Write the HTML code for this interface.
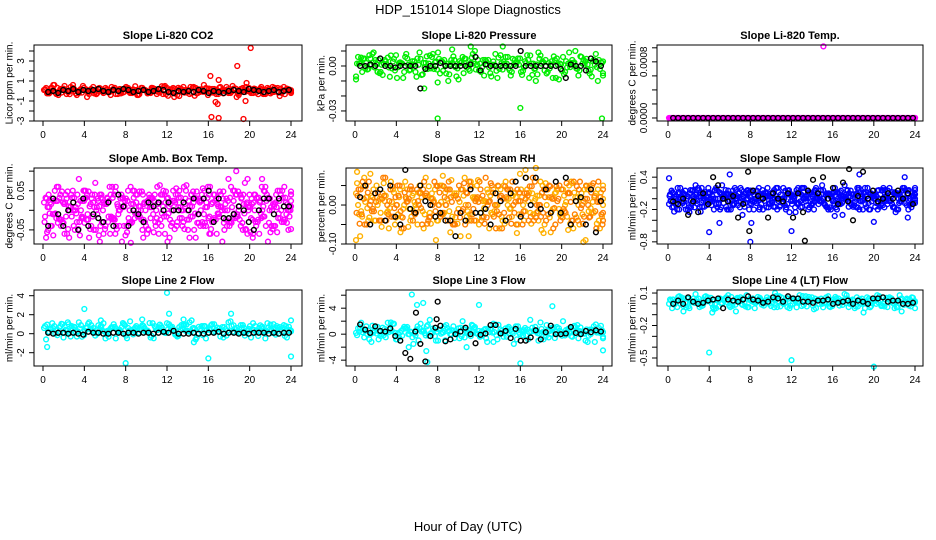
<!DOCTYPE html>
<html><head><meta charset="utf-8"><style>
html,body{margin:0;padding:0;background:#fff}
svg{display:block;font-family:"Liberation Sans",sans-serif}
</style></head><body>
<svg id="fig" width="936" height="540" viewBox="0 0 936 540">
<text x="468" y="14" text-anchor="middle" font-size="13">HDP_151014  Slope Diagnostics</text>
<text x="468" y="531" text-anchor="middle" font-size="13">Hour of Day (UTC)</text>
</svg>
<script>
// ---- data ----
const xTicks = [0,4,8,12,16,20,24];

const co2Vals = [0.1,-0.2,0.3,-0.3,0.2,0.5,-0.1,0.3,-0.4,0.2,0.1,-0.3,0.4,-0.2,0.0,0.3,-0.1,0.2,-0.3,0.1,0.4,-0.2,0.1,-0.4,0.3,0.0,-0.2,0.2,0.1,-0.3,0.3,-0.1,0.2,-0.5,0.4,0.1,-0.2,0.3,-0.1,0.6,-0.4,0.2,-0.3,0.4,0.0,-0.2,0.5,-0.6,0.2,-0.1,0.3,-0.2,0.1,0.4,-0.3,0.2,-0.1,0.3,-0.2,0.1,0.0];
const co2Black = [-0.1,0.0,-0.2,0.1,0.0,0.2,-0.1,0.1,0.0,0.1,0.2,0.0,-0.1,0.1,0.0,0.2,0.1,-0.1,0.0,0.1,-0.1,0.0,0.2,0.1,-0.1,-0.2,0.0,-0.1,0.0,-0.1,0.1,0.0,-0.2,0.0,-0.1,-0.2,0.0,0.1,0.0,-0.1,0.2,0.1,0.0,-0.1,0.0,0.1,-0.1,0.0,0.1];
const co2OutX = [1.0,2.9,16.2,16.3,16.7,17.0,17.0,16.9,18.8,19.4,19.6,20.1,19.7,12.7];
const co2OutY = [0.6,0.6,1.5,-2.6,-1.1,-2.7,1.1,-1.3,2.5,-2.8,-1.0,4.3,0.8,-0.6];

const pressVals = [-0.007,0.002,0.005,-0.002,0.008,0.001,-0.004,0.004,-0.001,0.003,-0.008,0.002,0.006,-0.003,0.001,0.005,-0.006,0.002,0.007,-0.002,0.009,0.003,-0.005,0.001,0.004,-0.009,0.006,-0.001,0.002,0.010,-0.003,0.004,0.001,-0.007,0.008,-0.002,0.003,0.006,-0.004,0.002,0.005,-0.001,0.004,-0.006,0.001,0.007,-0.003,0.002,-0.008,0.005,0.001,-0.004,0.009,0.002,-0.002,0.006,0.003,-0.005,0.004,-0.010,0.002];
const pressBlack = [0,0,0.001,0,0.005,0,0,-0.001,0,0,0,0,-0.015,-0.002,0,0,0.002,0,0,0,0,0,0.001,0.006,-0.003,0.001,0,0,0,0,0,0,0.010,0,0,0,0,0,0,0,-0.002,-0.008,0.001,0,0,-0.003,0.005,0.003,0];
const pressOutX = [8.0,16.0,23.9,11.2,14.3,1.8,0.1,6.7,8.0,17.5,9.4];
const pressOutY = [-0.035,-0.028,-0.035,0.013,0.013,0.009,-0.009,-0.015,-0.011,-0.010,0.011];

const tempVals = [0,0,0,0,0,0,0,0,0,0,0,0,0,0,0,0,0,0,0,0,0,0,0,0,0,0,0,0,0,0,0,0,0,0,0,0,0,0,0,0,0,0,0,0,0,0,0,0,0,0,0,0,0,0,0,0,0,0,0,0,0];
const tempBlack = [0,0,0,0,0,0,0,0,0,0,0,0,0,0,0,0,0,0,0,0,0,0,0,0,0,0,0,0,0,0,0,0,0,0,0,0,0,0,0,0,0,0,0,0,0,0,0,0,0];
const tempOutX = [15.1];
const tempOutY = [0.00102];

const ambVals = [0.02,-0.05,0.03,-0.02,0.04,-0.06,0.01,0.05,-0.03,0.00,0.03,-0.07,0.02,-0.01,0.04,-0.04,0.06,-0.02,0.01,-0.08,0.03,-0.03,0.05,0.00,-0.05,0.02,-0.02,0.04,-0.06,0.01,0.03,-0.04,0.02,0.05,-0.03,0.00,0.04,-0.07,0.02,-0.01,0.06,-0.03,0.03,0.01,-0.05,0.08,-0.02,0.04,-0.04,0.07,0.01,-0.06,0.03,-0.02,0.06,0.00,-0.04,0.05,-0.03,0.02,0.01];
const ambVals2 = [-0.03,0.04,-0.01,0.06,-0.04,0.02,-0.07,0.00,0.04,-0.02,0.05,0.01,-0.05,0.03,-0.03,0.02,-0.06,0.04,-0.01,0.03,-0.04,0.06,-0.02,0.01,0.04,-0.06,0.03,-0.03,0.02,0.05,-0.08,0.00,0.04,-0.02,0.06,-0.05,0.01,0.03,-0.04,0.05,-0.02,0.02,-0.06,0.04,0.00,-0.03,0.05,-0.01,0.03,-0.05,0.04,0.02,-0.03,0.06,-0.04,0.03,0.01,-0.02,0.05,-0.01,0.00];
const ambBlack = [-0.04,0.03,-0.01,-0.04,0.00,0.02,-0.05,0.03,-0.04,-0.01,-0.02,-0.03,0.02,-0.04,0.04,0.01,-0.04,0.00,-0.01,-0.03,0.02,0.01,0.02,0.00,0.02,0.00,0.00,0.02,0.00,0.03,-0.01,0.03,0.05,-0.03,0.03,-0.02,-0.02,-0.01,0.01,0.00,-0.03,-0.05,0.00,0.03,0.03,-0.01,0.03,0.01,0.01];
const ambOutX = [18.7,19.8,20.3,21.2,5.5,8.5,9.7,7.0,16.1,4.0];
const ambOutY = [0.1,0.08,-0.07,0.08,-0.08,-0.083,-0.07,-0.06,-0.06,0.05];

const rhVals = [0.03,-0.08,0.07,-0.04,0.02,0.05,-0.02,0.01,-0.06,0.04,0.00,-0.03,0.06,-0.01,0.03,-0.05,0.02,0.07,-0.02,0.01,-0.04,0.05,0.00,-0.07,0.03,-0.01,0.04,-0.03,0.06,0.02,-0.05,0.01,0.04,-0.02,0.03,-0.06,0.05,0.00,-0.03,0.02,0.08,-0.04,0.01,0.03,-0.02,0.06,-0.05,0.02,-0.01,0.04,-0.03,0.00,0.05,-0.06,0.02,0.03,-0.09,0.05,-0.02,0.04,-0.03];
const rhVals2 = [-0.02,0.04,-0.05,0.06,-0.01,0.02,-0.04,0.07,0.01,-0.03,0.05,-0.06,0.02,0.04,-0.02,0.01,-0.05,0.03,-0.03,0.06,0.00,-0.02,0.04,0.02,-0.05,0.05,-0.01,0.03,-0.04,0.01,0.06,-0.03,0.00,0.05,-0.06,0.02,-0.02,0.04,0.06,-0.05,0.01,0.03,-0.04,0.07,0.00,-0.03,0.02,0.05,-0.06,0.01,0.04,-0.02,0.03,0.06,-0.04,0.00,0.05,-0.03,0.02,0.06,-0.05];
const rhBlack = [0.02,0.05,-0.05,0.03,0.04,-0.04,0.05,-0.03,-0.05,0.09,-0.01,-0.02,0.05,0.01,0.00,-0.03,-0.02,-0.04,-0.04,-0.08,-0.02,-0.04,0.04,-0.02,-0.02,-0.01,-0.05,0.03,0.01,-0.04,0.03,0.06,-0.03,0.07,0.00,0.07,-0.01,0.04,-0.02,0.06,-0.02,0.07,-0.05,0.01,0.02,-0.05,0.04,-0.07,0.01];
const rhOutX = [0.2,0.1,17.5,16.5,22.1,8.5,11.0,4.4];
const rhOutY = [0.085,-0.09,0.095,0.09,-0.095,0.075,-0.08,-0.07];

const sampleVals = [-0.1,0.1,-0.2,0.0,0.15,-0.25,0.05,-0.1,0.2,-0.05,0.1,-0.2,0.0,0.25,-0.15,0.05,-0.1,0.1,-0.3,0.0,0.15,-0.05,0.2,-0.2,0.05,0.1,-0.15,0.0,0.2,-0.1,0.05,-0.25,0.1,0.0,0.15,-0.1,0.2,-0.05,0.0,-0.2,0.1,0.05,-0.1,0.25,-0.15,0.0,0.1,-0.05,0.2,-0.2,0.05,0.15,-0.1,0.0,0.2,-0.15,0.1,-0.05,0.15,0.0,0.05];
const sampleVals2 = [0.05,-0.15,0.2,-0.05,-0.2,0.1,0.0,0.2,-0.15,0.05,-0.05,0.15,-0.1,0.0,0.1,-0.2,0.2,-0.05,0.05,0.15,-0.1,0.0,-0.2,0.1,0.2,-0.05,0.05,-0.15,0.0,0.15,-0.1,0.1,-0.05,0.2,-0.2,0.05,0.0,0.15,-0.1,0.1,-0.05,-0.2,0.15,0.0,0.1,-0.15,0.2,0.05,-0.1,0.1,0.0,-0.2,0.15,0.05,-0.05,0.1,-0.2,0.15,0.0,-0.1,0.1];
const sampleBlack = [-0.05,-0.1,0.0,-0.3,-0.05,-0.25,0.1,-0.1,0.4,0.25,0.0,-0.05,0.05,-0.35,-0.1,0.5,0.15,0.05,0.0,-0.35,0.1,0.0,-0.05,0.1,-0.35,0.1,-0.25,0.15,0.35,0.1,0.4,0.0,0.2,-0.1,0.3,-0.05,-0.4,0.05,0.5,0.0,0.15,-0.05,0.0,0.1,0.0,0.15,0.0,0.1,-0.1];
const sampleOutX = [8.0,4.0,12.0,5.0,8.1,6.0,18.6,20.0,16.2,23.0,23.3,0.1];
const sampleOutY = [-0.8,-0.62,-0.6,-0.45,-0.45,0.45,0.45,-0.43,-0.32,0.4,-0.35,0.38];
const sampleBlkOutX = [13.3,17.6,7.9];
const sampleBlkOutY = [-0.78,0.55,-0.6];

const line2Vals = [0.6,0.2,1.1,0.4,0.8,0.1,1.0,0.5,-0.3,0.9,0.3,1.2,0.6,0.0,0.8,-0.5,0.4,1.0,0.2,0.7,-0.2,1.3,0.5,0.1,0.9,0.3,-0.4,0.8,0.6,0.2,1.1,0.4,-0.1,0.7,0.9,0.3,1.4,-0.6,0.5,0.8,0.1,1.0,0.4,-0.3,0.7,1.2,0.2,0.6,0.9,-0.2,0.5,1.1,0.3,0.7,-0.5,0.4,1.0,0.6,0.2,0.8,0.4];
const line2Black = [0.1,0,0.1,0.1,0,0.1,0,-0.1,0.2,0.1,0.1,0,0,0.1,0.1,0,0.1,0.1,0,0.1,0.1,0,0.1,0.2,0.1,0.3,0,0,0,0.1,0,0,0.1,0.1,0.2,0,0.1,0.1,0,0.1,0,0.1,0.1,0.1,0,0.1,0,0.1,0.1];
const line2OutX = [0.4,4.0,8.0,12.0,12.2,16.0,18.2,24.0,9.6,13.6,14.6,5.6,2.4];
const line2OutY = [-1.4,2.6,-3.1,4.3,2.1,-2.6,2.1,-2.4,1.5,1.5,-0.9,1.4,1.2];

const line3Vals = [0.2,1.0,-0.5,0.6,1.3,0.1,-0.3,0.8,0.3,1.6,-0.8,0.5,0.9,0.0,-1.5,1.2,0.4,-0.2,2.2,0.6,-1.0,0.3,1.4,0.0,-0.6,0.9,2.0,0.2,-0.3,1.1,0.5,0.1,-1.2,0.7,1.5,0.2,-0.4,0.9,0.3,1.2,0.0,0.6,-0.8,1.0,0.4,1.8,0.2,-0.5,0.8,1.1,0.3,-0.2,0.9,0.5,1.4,0.1,-1.0,0.7,1.2,0.4,0.6];
const line3Black = [1.5,0.7,0.2,1.2,0.5,0.4,0.9,-0.3,-1.0,-2.9,-3.8,0.4,-1.5,-4.2,-0.3,1.0,1.3,-1.1,-0.8,0.0,0.4,1.0,0.0,-1.4,-0.1,0.1,1.4,1.4,0.1,0.5,-0.6,0.8,-1.0,-1.0,-0.5,0.6,-0.8,0.3,1.3,0.0,0.0,0.1,1.1,0.2,0.0,0.5,0.3,0.6,0.4];
const line3BlkOutX = [5.9,8.0,7.9];
const line3BlkOutY = [3.3,5.0,2.3];
const line3OutX = [5.5,6.0,6.6,7.0,12.0,16.0,19.1,24.0,5.2,10.8,6.9,13.4];
const line3OutY = [6.1,4.5,4.8,-4.3,4.5,-4.5,4.3,-2.5,-2.0,-2.0,-2.6,-1.2];

const line4Vals = [0.0,0.04,-0.03,0.06,0.01,-0.04,0.05,0.02,-0.02,0.07,0.03,-0.05,0.04,0.00,0.06,-0.03,0.02,0.05,-0.01,0.08,0.03,-0.04,0.04,0.01,0.06,-0.02,0.03,0.07,0.00,-0.03,0.05,0.02,0.08,-0.01,0.04,0.06,-0.04,0.03,0.01,0.07,-0.02,0.05,0.02,0.09,-0.03,0.04,0.06,0.00,-0.04,0.05,0.03,0.08,-0.02,0.04,0.06,0.01,-0.03,0.05,0.02,0.04,0.01];
const line4Black = [0.0,0.03,0.0,0.06,0.02,0.0,0.01,0.03,0.04,0.05,-0.04,0.04,0.03,0.02,0.04,0.07,0.04,0.03,0.01,0.02,0.06,0.05,0.02,0.07,0.05,0.05,0.02,0.02,0.01,0.03,0.03,0.04,0.0,0.01,0.02,0.03,0.0,0.03,0.02,0.0,0.05,0.05,0.06,0.02,0.03,0.03,0.0,0.0,0.01];
const line4OutX = [4.0,12.0,20.0,1.5,4.3,6.6,19.0,22.7,10.4];
const line4OutY = [-0.45,-0.52,-0.58,-0.07,-0.08,-0.07,-0.08,-0.07,0.1];

const co2Ticks=[-3,-2,-1,0,1,2,3,4], co2Labels=["-3","","-1","","1","","3",""];
const pressTicks=[-0.03,-0.02,-0.01,0,0.01], pressLabels=["-0.03","","","0.00",""];
const tempTicks=[0,0.0002,0.0004,0.0006,0.0008,0.001], tempLabels=["0.0000","","","","0.0008",""];
const ambTicks=[-0.05,0,0.05,0.1], ambLabels=["-0.05","","0.05",""];
const rhTicks=[-0.1,-0.05,0,0.05], rhLabels=["-0.10","","0.00",""];
const sampleTicks=[-0.8,-0.6,-0.4,-0.2,0,0.2,0.4], sampleLabels=["-0.8","","","-0.2","","","0.4"];
const line2Ticks=[-2,0,2,4], line2Labels=["-2","0","2","4"];
const line3Ticks=[-4,-2,0,2,4,6], line3Labels=["-4","","0","","4",""];
const line4Ticks=[-0.5,-0.4,-0.3,-0.2,-0.1,0,0.1], line4Labels=["-0.5","","","-0.2","","","0.1"];

// ---- layout ----
const cols=[{l:34,r:302,x0:43,x24:291,yt:10},{l:346,r:612,x0:355,x24:603,yt:322},{l:657,r:923,x0:668,x24:915,yt:633}];
const rows=[{t:45,b:121},{t:168,b:244},{t:290,b:366}];
const NS="http://www.w3.org/2000/svg";
const svg=document.getElementById('fig');
function mk(tag,attrs,parent){const e=document.createElementNS(NS,tag);for(const k in attrs)e.setAttribute(k,attrs[k]);(parent||svg).appendChild(e);return e;}

const panels=[
 {key:'co2',title:'Slope Li-820 CO2',ylab:'Licor ppm per min.',c:0,r:0,min:-3.0,max:4.6,cols:['#ff0000'],vals:[co2Vals],blk:co2Black,ox:co2OutX,oy:co2OutY,ticks:co2Ticks,labels:co2Labels},
 {key:'pressure',title:'Slope Li-820 Pressure',ylab:'kPa per min.',c:1,r:0,min:-0.0367,max:0.014,cols:['#00ee00'],vals:[pressVals],blk:pressBlack,ox:pressOutX,oy:pressOutY,ticks:pressTicks,labels:pressLabels},
 {key:'temp',title:'Slope Li-820 Temp.',ylab:'degrees C per min.',c:2,r:0,min:-0.000043,max:0.00104,cols:['#ff00ff'],vals:[tempVals],blk:tempBlack,ox:tempOutX,oy:tempOutY,ticks:tempTicks,labels:tempLabels},
 {key:'amb-box-temp',title:'Slope Amb. Box Temp.',ylab:'degrees C per min.',c:0,r:1,min:-0.086,max:0.108,cols:['#ff00ff','#ff00ff'],vals:[ambVals,ambVals2],blk:ambBlack,ox:ambOutX,oy:ambOutY,ticks:ambTicks,labels:ambLabels},
 {key:'gas-stream-rh',title:'Slope Gas Stream RH',ylab:'percent per min.',c:1,r:1,min:-0.10,max:0.095,cols:['#ffb000','#ff8000'],vals:[rhVals,rhVals2],blk:rhBlack,ox:rhOutX,oy:rhOutY,ticks:rhTicks,labels:rhLabels},
 {key:'sample-flow',title:'Slope Sample Flow',ylab:'ml/min per min.',c:2,r:1,min:-0.84,max:0.57,cols:['#0000ff','#0000ff'],vals:[sampleVals,sampleVals2],blk:sampleBlack,ox:sampleOutX,oy:sampleOutY,bx:sampleBlkOutX,by:sampleBlkOutY,ticks:sampleTicks,labels:sampleLabels},
 {key:'line2-flow',title:'Slope Line 2 Flow',ylab:'ml/min per min.',c:0,r:2,min:-3.4,max:4.6,cols:['#00ffff'],vals:[line2Vals],blk:line2Black,ox:line2OutX,oy:line2OutY,ticks:line2Ticks,labels:line2Labels},
 {key:'line3-flow',title:'Slope Line 3 Flow',ylab:'ml/min per min.',c:1,r:2,min:-4.9,max:6.8,cols:['#00ffff'],vals:[line3Vals],blk:line3Black,ox:line3OutX,oy:line3OutY,bx:line3BlkOutX,by:line3BlkOutY,ticks:line3Ticks,labels:line3Labels},
 {key:'line4-flow',title:'Slope Line 4 (LT) Flow',ylab:'ml/min per min.',c:2,r:2,min:-0.574,max:0.128,cols:['#00ffff'],vals:[line4Vals],blk:line4Black,ox:line4OutX,oy:line4OutY,ticks:line4Ticks,labels:line4Labels}
];

const passShift=[0,17,37,11];
panels.forEach(p=>{
  const C=cols[p.c],R=rows[p.r];
  const xs=h=>C.x0+h/24*(C.x24-C.x0);
  const ys=v=>R.b-(v-p.min)/(p.max-p.min)*(R.b-R.t);
  const g=mk('g',{});
  
  
  const t=mk('text',{x:(C.l+C.r)/2,y:R.t-6,'text-anchor':'middle','font-size':11,'font-weight':'bold'},g);
  t.textContent=p.title;
  
  
  const yl=mk('text',{x:C.yt,y:(R.t+R.b)/2,'text-anchor':'middle','font-size':10,transform:`rotate(-90 ${C.yt} ${(R.t+R.b)/2})`,'dominant-baseline':'middle'},g);
  yl.textContent=p.ylab;
  
  
  const pts=mk('g',{fill:'none','stroke-width':1.4},g);
  
  
  p.vals.forEach((arr,si)=>{
    const n=arr.length, step=23.8/(n-1);
    passShift.forEach((sh,k)=>{
      arr.forEach((v,i)=>{
        const h=Math.min(24,0.1+i*step+(k*0.25+si*0.125)*step);
        const val=arr[(i+sh)%n]*(k%2?0.8:1);
        const c=mk('circle',{cx:xs(h),cy:ys(val),r:2.4,stroke:p.cols[si]},pts);
        
        
      });
    });
  });
  p.ox.forEach((h,i)=>{
    const c=mk('circle',{cx:xs(h),cy:ys(p.oy[i]),r:2.4,stroke:p.cols[0]},pts);
    
    
  });
  const n=p.blk.length;
  p.blk.forEach((v,i)=>{
    const h=0.5+i*(23.3/(n-1));
    const c=mk('circle',{cx:xs(h),cy:ys(v),r:2.4,stroke:'#000'},pts);
    
    
  });
  if(p.bx) p.bx.forEach((h,i)=>{
    const c=mk('circle',{cx:xs(h),cy:ys(p.by[i]),r:2.4,stroke:'#000'},pts);
    
    
  });
  const b=mk('rect',{x:C.l,y:R.t,width:C.r-C.l,height:R.b-R.t,fill:'none',stroke:'#000','stroke-width':1},g);
  
  
  xTicks.forEach(h=>{
    const x=xs(h);
    mk('line',{x1:x,x2:x,y1:R.b,y2:R.b+5,stroke:'#000'},g);
    const tl=mk('text',{x:x,y:R.b+17,'text-anchor':'middle','font-size':10},g);
    tl.textContent=h;
    
    
  });
  p.ticks.forEach((v,i)=>{
    const y=ys(v);
    if(y<R.t-1||y>R.b+1) return;
    mk('line',{x1:C.l-5,x2:C.l,y1:y,y2:y,stroke:'#000'},g);
    if(p.labels[i]){
      const tx=C.l-10;
      const tl=mk('text',{x:tx,y:y,'text-anchor':'middle','font-size':10,transform:`rotate(-90 ${tx} ${y})`},g);
      tl.textContent=p.labels[i];
      
      
    }
  });
});
</script>
</body></html>
